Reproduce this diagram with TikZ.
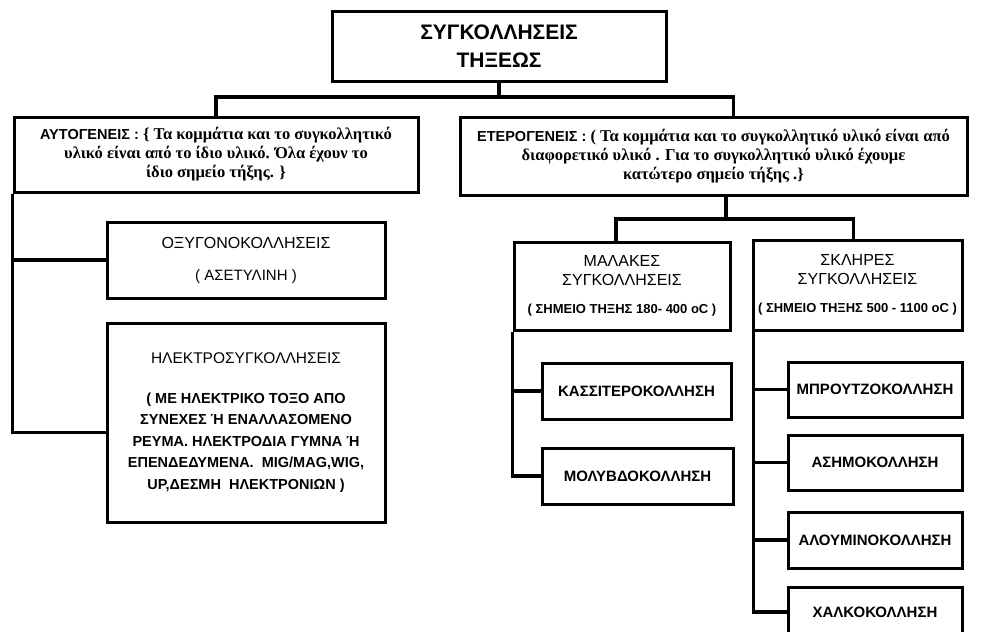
\documentclass[tikz,border=0pt]{standalone}
\usepackage{fontspec}
\setmainfont{Liberation Serif}
\newfontfamily\sansgr{Liberation Sans}
\begin{document}
\begin{tikzpicture}[x=1pt,y=-1pt,
		boks/.style={draw, line width=3pt, inner sep=0pt, align=center, font=\sansgr},
		liten/.style={boks, font=\sansgr\bfseries\fontsize{15}{17}\selectfont},
		linje/.style={line width=3.3pt}]
			\useasboundingbox (0,0) rectangle (989,632);
			\clip (0,0) rectangle (989,632);
			
			% Hovedboks
			\node[boks, minimum width=334pt, minimum height=70pt, font=\sansgr\bfseries\fontsize{21}{28}\selectfont] (top) at (499,46) {ΣΥΓΚΟΛΛΗΣΕΙΣ\\ΤΗΞΕΩΣ};
			
			% Autogeneis og heterogeneis
			\node[boks, minimum width=404pt, minimum height=75pt, font=\bfseries\fontsize{16.5}{19}\selectfont] (auto) at (216,154.5)
				{{\sansgr\fontsize{14.5}{19}\selectfont ΑΥΤΟΓΕΝΕΙΣ :} \{ Τα κομμάτια και το συγκολλητικό\\ υλικό είναι από το ίδιο υλικό. Όλα έχουν το\\ ίδιο σημείο τήξης. \}};
			\node[boks, minimum width=507pt, minimum height=78pt, font=\bfseries\fontsize{16.5}{19}\selectfont] (hetero) at (713.5,156)
				{{\sansgr\fontsize{14.5}{19}\selectfont ΕΤΕΡΟΓΕΝΕΙΣ :} ( Τα κομμάτια και το συγκολλητικό υλικό είναι από\\ διαφορετικό υλικό . Για το συγκολλητικό υλικό έχουμε\\ κατώτερο σημείο τήξης .\}};
			
			% Venstre gren
			\node[boks, minimum width=278pt, minimum height=76pt, font=\sansgr\fontsize{16}{32}\selectfont] (oxy) at (246,260) {ΟΞΥΓΟΝΟΚΟΛΛΗΣΕΙΣ\\{\fontsize{15}{32}\selectfont ( ΑΣΕΤΥΛΙΝΗ )}};
			\node[boks, minimum width=278pt, minimum height=199pt, font=\sansgr\bfseries\fontsize{14.5}{21.5}\selectfont] (ilektro) at (246,422.5)
				{{\mdseries\fontsize{15.5}{21.5}\selectfont ΗΛΕΚΤΡΟΣΥΓΚΟΛΛΗΣΕΙΣ}\\[18pt] ( ΜΕ ΗΛΕΚΤΡΙΚΟ ΤΟΞΟ ΑΠΟ\\ ΣΥΝΕΧΕΣ Ή ΕΝΑΛΛΑΣΟΜΕΝΟ\\ ΡΕΥΜΑ. ΗΛΕΚΤΡΟΔΙΑ ΓΥΜΝΑ Ή\\ ΕΠΕΝΔΕΔΥΜΕΝΑ.\ \ MIG/MAG,WIG,\\ UP,ΔΕΣΜΗ\ \ ΗΛΕΚΤΡΟΝΙΩΝ )};
			
			% Hoyre gren
			\node[boks, minimum width=216pt, minimum height=88pt, font=\sansgr\fontsize{16}{19}\selectfont] (malakes) at (622,286)
				{ΜΑΛΑΚΕΣ\\ΣΥΓΚΟΛΛΗΣΕΙΣ\\[9pt]{\bfseries\fontsize{13}{13}\selectfont ( ΣΗΜΕΙΟ ΤΗΞΗΣ 180- 400 oC )}};
			\node[boks, minimum width=209pt, minimum height=90pt, font=\sansgr\fontsize{16}{19}\selectfont] (sklires) at (857.5,285)
				{ΣΚΛΗΡΕΣ\\ΣΥΓΚΟΛΛΗΣΕΙΣ\\[9pt]{\bfseries\fontsize{13}{13}\selectfont ( ΣΗΜΕΙΟ ΤΗΞΗΣ 500 - 1100 oC )}};
			
			\node[liten, minimum width=189pt, minimum height=56pt] (kassit) at (636.5,391) {ΚΑΣΣΙΤΕΡΟΚΟΛΛΗΣΗ};
			\node[liten, minimum width=191pt, minimum height=56pt] (molyv) at (637.5,476) {ΜΟΛΥΒΔΟΚΟΛΛΗΣΗ};
			
			\node[liten, minimum width=174pt, minimum height=55pt] (brontzo) at (875,389.5) {ΜΠΡΟΥΤΖΟΚΟΛΛΗΣΗ};
			\node[liten, minimum width=174pt, minimum height=55pt] (asimo) at (875,462.5) {ΑΣΗΜΟΚΟΛΛΗΣΗ};
			\node[liten, minimum width=174pt, minimum height=56pt] (alou) at (875,540) {ΑΛΟΥΜΙΝΟΚΟΛΛΗΣΗ};
			\node[liten, minimum width=174pt, minimum height=50pt] (xalko) at (875,612) {ΧΑΛΚΟΚΟΛΛΗΣΗ};
			
			% Linjer
			\coordinate (bus) at (499,97);
			\draw[linje] (top.south) -- (bus);
			\draw[linje] (auto.north) |- (bus) -| ([xshift=20pt]hetero.north);
			\draw[linje] (auto.south west) |- ([yshift=-10pt]ilektro.west);
			\draw[linje] (oxy.west) -- (oxy.west -| auto.south west);
			
			\coordinate (bus2) at (726,219);
			\draw[linje] ([xshift=12.5pt]hetero.south) -- (bus2);
			\draw[linje] ([xshift=-6pt]malakes.north) |- (bus2) -| ([xshift=-4pt]sklires.north);
			\draw[linje] (malakes.south west) |- (molyv.west);
			\draw[linje] (kassit.west) -- (kassit.west -| malakes.south west);
			\draw[linje] ([xshift=2pt]sklires.south west) |- (xalko.west);
			\foreach \b in {brontzo,asimo,alou}
				\draw[linje] (\b.west) -- (\b.west -| sklires.south west);
		\end{tikzpicture}
\end{document}
